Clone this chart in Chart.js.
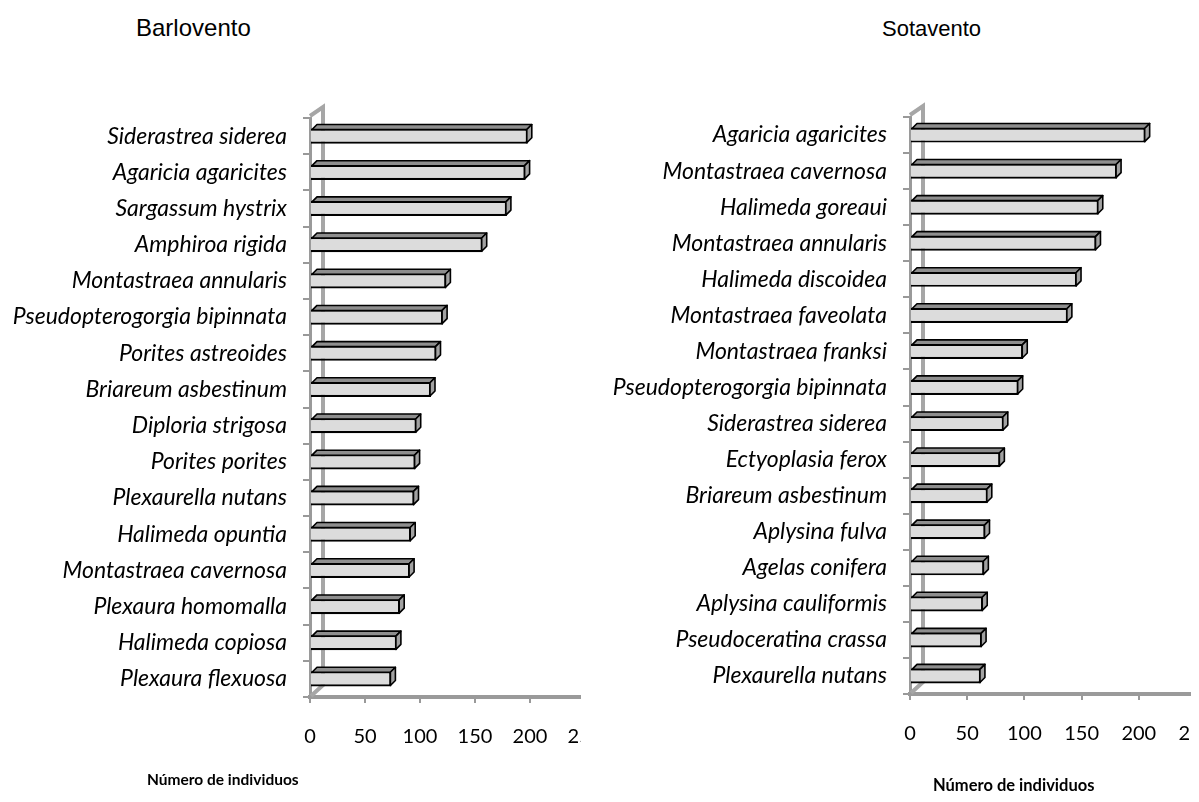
<!DOCTYPE html>
<html>
<head>
<meta charset="utf-8">
<script src="https://cdn.jsdelivr.net/npm/chart.js@4.4.0/dist/chart.umd.min.js"></script>
<style>
  body { margin: 0; background: #fff; width: 1199px; height: 802px; overflow: hidden; position: relative; font-family: Lato, sans-serif; }
  .wrap { position: absolute; top: 0; height: 802px; overflow: hidden; }
  .title { position: absolute; font-family: "Liberation Sans", Arial, sans-serif; color: #000; white-space: nowrap; }
  .xtitle { position: absolute; font-family: Lato, sans-serif; font-weight: bold; color: #000; white-space: nowrap; }
</style>
</head>
<body>
<div class="title" style="left:136px; top:14px; font-size:24px;">Barlovento</div>
<div class="title" style="left:882px; top:16px; font-size:22px;">Sotavento</div>
<div class="wrap" style="left:0; width:581px;"><canvas id="barlovento" width="610" height="802"></canvas></div>
<div class="wrap" style="left:600px; width:591px;"><canvas id="sotavento" width="621" height="802"></canvas></div>
<div class="xtitle" style="left:147px; top:770px; font-size:15.5px;">Número de individuos</div>
<div class="xtitle" style="left:933px; top:775px; font-size:16.5px;">Número de individuos</div>
<script>
// Barlovento (windward side)
const barloventoSpecies = [
  "Siderastrea siderea", "Agaricia agaricites", "Sargassum hystrix", "Amphiroa rigida",
  "Montastraea annularis", "Pseudopterogorgia bipinnata", "Porites astreoides", "Briareum asbestinum",
  "Diploria strigosa", "Porites porites", "Plexaurella nutans", "Halimeda opuntia",
  "Montastraea cavernosa", "Plexaura homomalla", "Halimeda copiosa", "Plexaura flexuosa"
];
const barloventoCounts = [198, 196, 179, 157, 124, 121, 115, 110, 97, 96, 95, 92, 91, 82, 79, 74];

// Sotavento (leeward side)
const sotaventoSpecies = [
  "Agaricia agaricites", "Montastraea cavernosa", "Halimeda goreaui", "Montastraea annularis",
  "Halimeda discoidea", "Montastraea faveolata", "Montastraea franksi", "Pseudopterogorgia bipinnata",
  "Siderastrea siderea", "Ectyoplasia ferox", "Briareum asbestinum", "Aplysina fulva",
  "Agelas conifera", "Aplysina cauliformis", "Pseudoceratina crassa", "Plexaurella nutans"
];
const sotaventoCounts = [206, 181, 165, 163, 146, 138, 99, 95, 82, 79, 68, 66, 65, 64, 63, 62];

const xTicks = [0, 50, 100, 150, 200, 250];

// fake 3-D look: back wall of the frame plus top and side faces on each bar
const bar3d = {
  id: 'bar3d',
  beforeDatasetsDraw(chart) {
    const {ctx, chartArea: a} = chart;
    ctx.save();
    ctx.strokeStyle = '#a6a6a6';
    ctx.lineWidth = 4;
    ctx.beginPath();
    ctx.moveTo(a.left, a.top - 2);
    ctx.lineTo(a.left + 13, a.top - 11);
    ctx.lineTo(a.left + 13, a.bottom - 12);
    ctx.lineTo(a.left + 1, a.bottom - 1);
    ctx.stroke();
    ctx.restore();
  },
  afterDatasetsDraw(chart) {
    const ctx = chart.ctx;
    const dx = 5, dy = 5;
    chart.getDatasetMeta(0).data.forEach(bar => {
      const top = bar.y - bar.height / 2;
      const bottom = bar.y + bar.height / 2;
      const x0 = bar.base + 1, x1 = bar.x - 1;
      ctx.save();
      ctx.lineWidth = 1.6;
      ctx.strokeStyle = '#000';
      ctx.lineJoin = 'round';
      ctx.fillStyle = '#8e8e8e';
      ctx.beginPath();
      ctx.moveTo(x0, top + 1);
      ctx.lineTo(x0 + dx, top - dy + 1);
      ctx.lineTo(x1 + dx, top - dy + 1);
      ctx.lineTo(x1, top + 1);
      ctx.closePath();
      ctx.fill();
      ctx.stroke();
      ctx.fillStyle = '#a2a2a2';
      ctx.beginPath();
      ctx.moveTo(x1, top + 1);
      ctx.lineTo(x1 + dx, top - dy + 1);
      ctx.lineTo(x1 + dx, bottom - dy - 1);
      ctx.lineTo(x1, bottom - 1);
      ctx.closePath();
      ctx.fill();
      ctx.stroke();
      ctx.restore();
    });
  }
};

function makeChart(id, labels, values, top, bottom) {
  const canvas = document.getElementById(id);
  return new Chart(canvas, {
    type: 'bar',
    data: {
      labels: labels,
      datasets: [{
        data: values,
        backgroundColor: '#dcdcdc',
        borderColor: '#000',
        borderWidth: 2.2,
        barPercentage: 0.42,
        categoryPercentage: 1
      }]
    },
    options: {
      indexAxis: 'y',
      responsive: false,
      animation: false,
      layout: { padding: { left: 10, right: 25, top: top, bottom: 0 } },
      plugins: { legend: { display: false }, tooltip: { enabled: false } },
      scales: {
        x: {
          min: 0,
          max: 250,
          afterBuildTicks: s => { s.ticks = xTicks.map(v => ({value: v})); },
          afterFit: s => {
            s.height = canvas.height - bottom;
            // keep the last label from squeezing the plot; it gets clipped like the original
            s.paddingLeft = 0;
            s.paddingRight = 0;
          },
          grid: { drawOnChartArea: false, drawTicks: true, tickLength: 6, color: '#999', lineWidth: 2 },
          border: { display: true, color: '#9a9a9a', width: 4 },
          ticks: { color: '#000', padding: 22, font: { family: 'Lato', size: 20 } }
        },
        y: {
          afterFit: s => { s.width = 300; },
          grid: { drawOnChartArea: false, drawTicks: true, tickLength: 7, color: '#999', lineWidth: 2 },
          border: { display: true, color: '#9a9a9a', width: 3 },
          ticks: { color: '#000', padding: 16, font: { family: 'Lato', size: 23, style: 'italic' } }
        }
      }
    },
    plugins: [bar3d]
  });
}

makeChart('barlovento', barloventoSpecies, barloventoCounts, 118, 697);
makeChart('sotavento', sotaventoSpecies, sotaventoCounts, 117, 694);
</script>
</body>
</html>
